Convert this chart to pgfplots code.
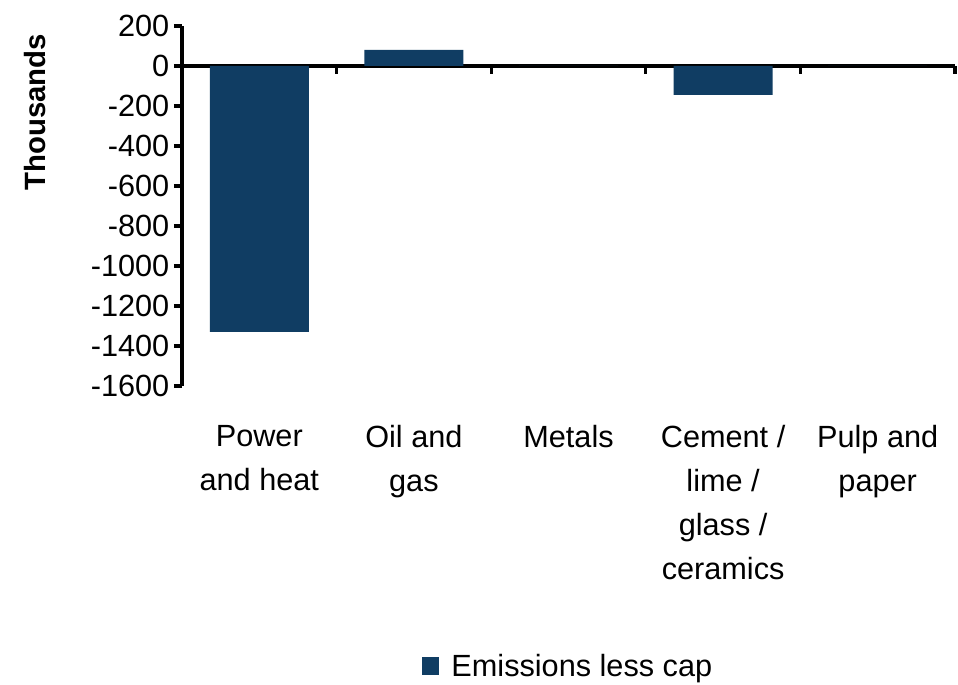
\documentclass[border=0pt]{standalone}
\usepackage{pgfplots}
\pgfplotsset{compat=1.18}
\usepackage{fontspec}
\setmainfont{Liberation Sans}
\definecolor{barblue}{RGB}{16,61,99}

\begin{document}
\begin{tikzpicture}
  % page = 958 x 685 px at 0.75pt per px
  \path[use as bounding box] (0,0) rectangle (718.5pt,513.75pt);
  \begin{axis}[
    at={(136.5pt,224.25pt)}, anchor=south west,
    scale only axis,
    width=579.75pt, height=270pt,
    clip=false,
    xmin=-0.5, xmax=4.5,
    ymin=-1600, ymax=200,
    axis y line*=left,
    axis x line*=bottom,
    axis line style={line width=2.4pt, black},
    every outer y axis line/.append style={line width=2.4pt},
    x axis line style={draw=none},
    tick align=outside,
    ytick={-1600,-1400,...,200},
    yticklabels={-1600,-1400,-1200,-1000,-800,-600,-400,-200,0,200},
    every y tick/.style={line width=2.4pt, black},
    major tick length=6pt,
    xtick={0,1,2,3,4},
    x tick style={draw=none},
    xticklabels={{Power\\and heat},{Oil and\\gas},{Metals},{Cement /\\lime /\\glass /\\ceramics},{Pulp and\\paper}},
    xticklabel style={align=center, anchor=north, yshift=-20pt},
    tick label style={font=\fontsize{23}{33}\selectfont},
    extra y ticks={0},
    extra y tick labels={},
    extra y tick style={grid=major, major grid style={black, line width=2.4pt}, y tick style={draw=none}},
    ylabel={\textbf{Thousands}},
    ylabel style={at={(axis description cs:-0.19,0.76)}, anchor=center, font=\fontsize{22}{26}\selectfont},
    legend style={at={(axis description cs:0.5,-0.78)}, anchor=center, draw=none,
                  font=\fontsize{23}{28}\selectfont},
    legend image code/.code={\fill[barblue] (0pt,-6pt) rectangle (13pt,7pt); \path (20pt,0pt);},
  ]
    \addplot[ybar, bar width=74.25pt, fill=barblue, draw=none] coordinates {
      (0,-1330) (1,80) (2,0) (3,-145) (4,0)
    };
    \addlegendentry{Emissions less cap}
    % category boundary ticks on the zero line
    \addplot[ycomb, black, line width=2.4pt, mark=none, forget plot] coordinates {
      (0.5,-40) (1.5,-40) (2.5,-40) (3.5,-40) (4.5,-40)
    };
  \end{axis}
\end{tikzpicture}
\end{document}
